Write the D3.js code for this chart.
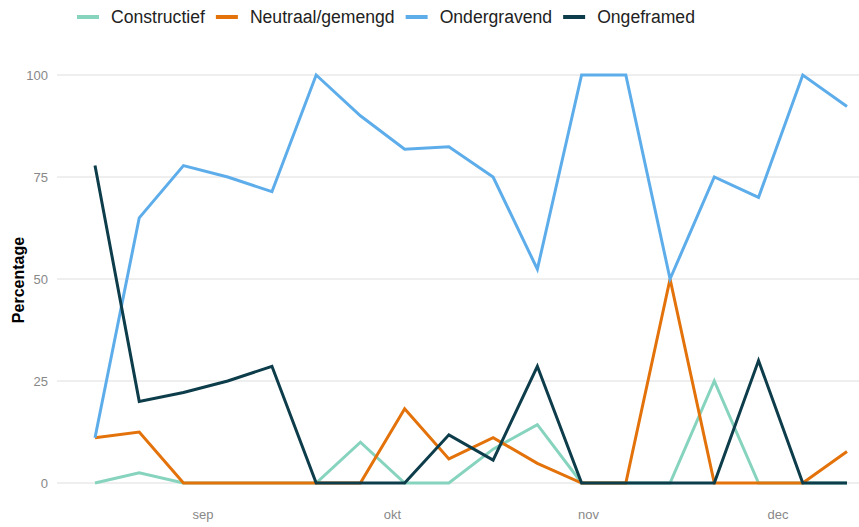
<!DOCTYPE html>
<html>
<head>
<meta charset="utf-8">
<script src="https://cdn.jsdelivr.net/npm/d3@7"></script>
<style>
  body { margin: 0; background: #fff; }
  text { font-family: "Liberation Sans", Arial, sans-serif; }
</style>
</head>
<body>
<div id="viz"></div>
<script>
// weekly dates (week start)
const weeks = ["2024-08-15","2024-08-22","2024-08-29","2024-09-05","2024-09-12","2024-09-19",
  "2024-09-26","2024-10-03","2024-10-10","2024-10-17","2024-10-24","2024-10-31",
  "2024-11-07","2024-11-14","2024-11-21","2024-11-28","2024-12-05","2024-12-12"];

const seriesNames = ["Constructief", "Neutraal/gemengd", "Ondergravend", "Ongeframed"];
const seriesColors = ["#86d3be", "#e3720b", "#5eadeb", "#0d3d4b"];

const constructief = [0, 2.5, 0, 0, 0, 0, 10, 0, 0, 8.3, 14.3, 0, 0, 0, 25, 0, 0, 0];
const neutraal     = [11.1, 12.5, 0, 0, 0, 0, 0, 18.2, 5.9, 11.1, 4.8, 0, 0, 50, 0, 0, 0, 7.7];
const ondergravend = [11.1, 65, 77.8, 75, 71.4, 100, 90, 81.8, 82.4, 75, 52.4, 100, 100, 50, 75, 70, 100, 92.3];
const ongeframed   = [77.8, 20, 22.2, 25, 28.6, 0, 0, 0, 11.8, 5.6, 28.6, 0, 0, 0, 0, 30, 0, 0];

const yTicks = [0, 25, 50, 75, 100];
const monthTicks = ["2024-09-01", "2024-10-01", "2024-11-01", "2024-12-01"];
const monthLabels = ["sep", "okt", "nov", "dec"];

const width = 859, height = 527;
const parse = d3.timeParse("%Y-%m-%d");
const dates = weeks.map(parse);

const svg = d3.select("#viz").append("svg")
  .attr("width", width)
  .attr("height", height);

const x = d3.scaleTime()
  .domain(d3.extent(dates))
  .range([95, 847]);

const y = d3.scaleLinear()
  .domain([0, 100])
  .range([483, 75]);

// gridlines
svg.append("g")
  .selectAll("line")
  .data(yTicks)
  .enter().append("line")
  .attr("x1", 57)
  .attr("x2", width)
  .attr("y1", d => y(d))
  .attr("y2", d => y(d))
  .attr("stroke", "#dedede")
  .attr("stroke-width", 1);

// y axis labels
const yAxis = svg.append("g")
  .attr("transform", "translate(48,0)")
  .call(d3.axisLeft(y).tickValues(yTicks).tickSize(0).tickPadding(0));
yAxis.select(".domain").remove();
yAxis.selectAll("text")
  .attr("fill", "#888")
  .style("font-size", "13px")
  .style("font-family", "'Liberation Sans', Arial, sans-serif");

// x axis labels
const xAxis = svg.append("g")
  .attr("transform", "translate(0,510)")
  .call(d3.axisBottom(x)
    .tickValues(monthTicks.map(parse))
    .tickFormat((d, i) => monthLabels[i])
    .tickSize(0).tickPadding(0));
xAxis.select(".domain").remove();
xAxis.selectAll("text")
  .attr("fill", "#888")
  .style("font-size", "13px")
  .style("font-family", "'Liberation Sans', Arial, sans-serif");

// y axis title
svg.append("text")
  .attr("transform", "translate(24,280) rotate(-90)")
  .attr("text-anchor", "middle")
  .attr("font-weight", "bold")
  .attr("font-size", 16)
  .attr("fill", "#000")
  .text("Percentage");

// lines
const allSeries = [constructief, neutraal, ondergravend, ongeframed];
const line = d3.line()
  .x((d, i) => x(dates[i]))
  .y(d => y(d));

svg.append("g")
  .selectAll("path")
  .data(allSeries)
  .enter().append("path")
  .attr("d", d => line(d))
  .attr("fill", "none")
  .attr("stroke", (d, i) => seriesColors[i])
  .attr("stroke-width", 3)
  .attr("stroke-linejoin", "miter")
  .attr("stroke-linecap", "butt");

// legend
const legend = svg.append("g").attr("transform", "translate(77,17)");
let lx = 0;
seriesNames.forEach((name, i) => {
  const g = legend.append("g").attr("transform", `translate(${lx},0)`);
  g.append("line")
    .attr("x1", 0).attr("x2", 22)
    .attr("y1", 0).attr("y2", 0)
    .attr("stroke", seriesColors[i])
    .attr("stroke-width", 4);
  const t = g.append("text")
    .attr("x", 34)
    .attr("y", 0)
    .attr("dy", "0.35em")
    .attr("font-size", 17.6)
    .attr("fill", "#222")
    .text(name);
  lx += 34 + t.node().getComputedTextLength() + 11;
});
</script>
</body>
</html>
